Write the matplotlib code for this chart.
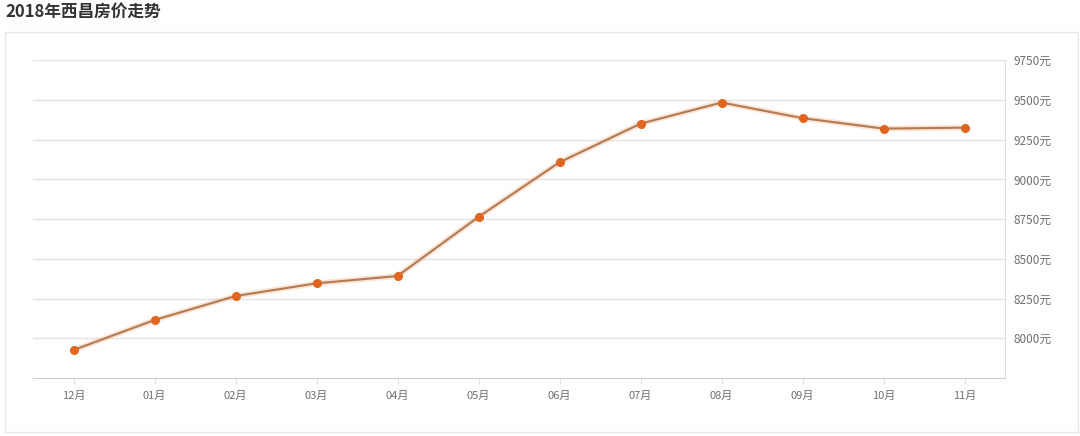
import matplotlib.pyplot as plt
from matplotlib.patches import Rectangle

plt.rcParams['font.family'] = ['Noto Sans CJK SC', 'DejaVu Sans']

# monthly average price (yuan / m2)
months = ['12月', '01月', '02月', '03月', '04月', '05月',
          '06月', '07月', '08月', '09月', '10月', '11月']
prices = [7926, 8115, 8266, 8346, 8392, 8764,
          9108, 9351, 9484, 9386, 9320, 9326]
yticks = [8000, 8250, 8500, 8750, 9000, 9250, 9500, 9750]

fig = plt.figure(figsize=(10.8, 4.36), dpi=100)

# outer panel frame
fig.patches.append(Rectangle((5 / 1080, 4 / 436), 1073 / 1080, 400 / 436,
                             transform=fig.transFigure, fill=False,
                             edgecolor='#e8e8e8', linewidth=1))
fig.text(5 / 1080, 1 - 12 / 436, '2018年西昌房价走势', fontsize=12,
         fontweight='bold', color='#333333', va='center', ha='left')

ax = fig.add_axes([33 / 1080, 58 / 436, 972 / 1080, 317.7 / 436])
x = list(range(len(months)))
ax.plot(x, prices, color='#f2b084', linewidth=4, alpha=0.35, zorder=2)
ax.plot(x, prices, color='#b47a52', linewidth=1.5, zorder=3)
ax.plot(x, prices, 'o', color='#e0651f', markersize=5.5, zorder=4)

ax.set_xlim(-0.5, len(months) - 0.5)
ax.set_ylim(7750, 9750)
ax.set_xticks(x)
ax.set_xticklabels(months)
ax.yaxis.tick_right()
ax.set_yticks(yticks)
ax.set_yticklabels([f'{v}元' for v in yticks])
ax.grid(axis='y', color='#e3e3e3', linewidth=1)
ax.set_axisbelow(True)

for side in ['top', 'left']:
    ax.spines[side].set_visible(False)
ax.spines['bottom'].set_color('#cccccc')
ax.spines['right'].set_color('#dddddd')
ax.tick_params(axis='x', colors='#707070', labelsize=8, length=4,
               color='#e0e0e0', pad=5)
ax.tick_params(axis='y', colors='#707070', labelsize=8.5, length=0, pad=6)

fig.savefig('out.png', dpi=100)
